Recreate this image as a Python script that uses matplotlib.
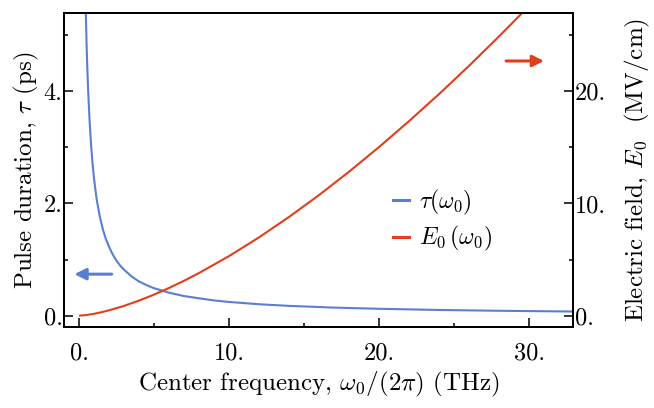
import matplotlib
matplotlib.use("Agg")
import matplotlib.pyplot as plt
from matplotlib.lines import Line2D

plt.rcParams['font.family'] = ['cmr10', 'DejaVu Serif']
plt.rcParams['mathtext.fontset'] = 'cm'
plt.rcParams['axes.formatter.use_mathtext'] = True

# ---- data ----
tau_freq = [0.45, 0.5, 0.55, 0.6, 0.7, 0.8, 0.9, 1.0, 1.1, 1.2, 1.4, 1.6, 1.8, 2.0, 2.25, 2.5, 2.75,
            3.0, 3.5, 4.0, 4.5, 5.0, 6.0, 7.0, 8.0, 9.0, 10.0, 12.0, 14.0, 17.0, 20.0, 24.0, 28.0, 33.0]
tau_vals = [5.44, 4.90, 4.45, 4.08, 3.50, 3.06, 2.72, 2.45, 2.23, 2.04, 1.75, 1.53, 1.36, 1.23, 1.09, 0.98, 0.89,
            0.82, 0.70, 0.61, 0.545, 0.49, 0.41, 0.35, 0.31, 0.272, 0.245, 0.204, 0.175, 0.144, 0.123, 0.102, 0.0875, 0.074]

e_freq = [0.0, 0.5, 1.0, 1.5, 2.0, 3.0, 4.0, 5.0, 6.0, 7.0, 8.0, 10.0, 12.0, 14.0, 16.0, 18.0,
          20.0, 22.0, 24.0, 26.0, 28.0, 30.0]
e_vals = [0.0, 0.059, 0.168, 0.309, 0.475, 0.873, 1.344, 1.878, 2.469, 3.11, 3.80, 5.31, 6.98, 8.80, 10.75, 12.83,
          15.03, 17.34, 19.75, 22.27, 24.89, 27.6]

x_ticks = [0, 10, 20, 30]
x_ticklabels = ["0.", "10.", "20.", "30."]
x_minor = [5, 15, 25]
left_ticks = [0, 2, 4]
left_ticklabels = ["0.", "2.", "4."]
left_minor = [1, 3, 5]
right_ticks = [0, 10, 20]
right_ticklabels = ["0.", "10.", "20."]
right_minor = [5, 15, 25]

blue = "#5a7fd2"
red = "#e23e1a"

fig = plt.figure(figsize=(6.54, 4.08), dpi=100)
ax = fig.add_axes([64/654, 1 - 327.3/408, (573.3-64)/654, (327.3-13.3)/408])
ax2 = ax.twinx()

ax.plot(tau_freq, tau_vals, color=blue, lw=1.5, solid_capstyle='butt')
ax2.plot(e_freq, e_vals, color=red, lw=1.5, solid_capstyle='butt')

ax.set_xlim(-1.0, 32.95)
ax.set_ylim(-0.207, 5.39)
ax2.set_ylim(-1.035, 26.95)

tfs = 17.5
ax.set_xticks(x_ticks, x_ticklabels, fontsize=tfs)
ax.set_xticks(x_minor, minor=True)
ax.set_yticks(left_ticks, left_ticklabels, fontsize=tfs)
ax.set_yticks(left_minor, minor=True)
ax2.set_yticks(right_ticks, right_ticklabels, fontsize=tfs)
ax2.set_yticks(right_minor, minor=True)

for a in (ax, ax2):
    for sp in a.spines.values():
        sp.set_linewidth(1.4)
ax.tick_params(axis='both', which='both', direction='in', width=1.1, top=False, right=False)
ax.tick_params(axis='both', which='major', length=6.5)
ax.tick_params(axis='both', which='minor', length=3.2)
ax.tick_params(axis='y', which='both', pad=1)
ax.tick_params(axis='x', which='both', pad=11)
ax2.tick_params(axis='y', which='both', direction='in', width=1.1, left=False, right=True, pad=1)
ax2.tick_params(axis='y', which='major', length=6.5)
ax2.tick_params(axis='y', which='minor', length=3.2)

ax.set_xlabel(r"Center frequency, $\omega_0/(2\pi)$ (THz)", fontsize=18, labelpad=3.5)
ax.set_ylabel(r"Pulse duration, $\tau$ (ps)", fontsize=18, labelpad=2)
ax2.set_ylabel(r"Electric field, $E_0$  (MV/cm)", fontsize=18, labelpad=12)

# arrows indicating axes
ax.annotate("", xy=(-0.31, 0.74), xytext=(2.18, 0.74),
            arrowprops=dict(arrowstyle='-|>', color=blue, lw=2.2, mutation_scale=17, shrinkA=0, shrinkB=0))
ax2.annotate("", xy=(31.0, 22.7), xytext=(28.47, 22.7),
             arrowprops=dict(arrowstyle='-|>', color=red, lw=2.2, mutation_scale=17, shrinkA=0, shrinkB=0))

handles = [Line2D([], [], color=blue, lw=2.2), Line2D([], [], color=red, lw=2.2)]
labels = [r"$\tau(\omega_0)$", r"$E_0\,(\omega_0)$"]
ax.legend(handles, labels, frameon=False, fontsize=17, handlelength=0.68, handletextpad=0.42,
          labelspacing=0.3, loc='center left', bbox_to_anchor=(0.64 - 6/509.3, 0.365 - 8/314), borderaxespad=0)

fig.savefig("out.png", dpi=100)
